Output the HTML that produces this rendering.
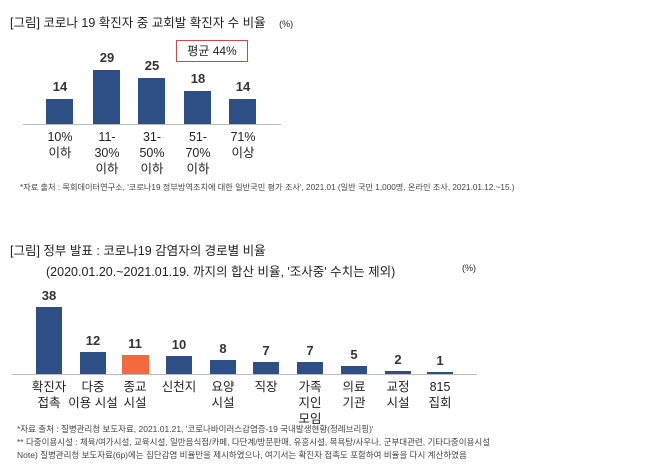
<!DOCTYPE html><html><head><meta charset="utf-8"><style>
body{margin:0;width:656px;height:465px;background:#fff;font-family:"Liberation Sans","Noto Sans CJK KR",sans-serif;color:#222;position:relative;overflow:hidden}
.t{position:absolute;white-space:nowrap}
.b{position:absolute;background:#2d4f86}
.v{position:absolute;font-weight:bold;font-size:13px;text-align:center;width:50px;color:#333}
.l{position:absolute;font-size:12.5px;text-align:center;width:70px;line-height:16px;color:#222}
.f{position:absolute;font-size:8.5px;color:#444;white-space:nowrap}
</style></head><body>
<div class="t" style="left:10px;top:12px;font-size:12.5px">[그림] 코로나 19 확진자 중 교회발 확진자 수 비율 <span style="font-size:9px;margin-left:10px">(%)</span></div>
<div class="t" style="left:176px;top:40px;width:70px;height:20px;border:1.5px solid #c94a4a;font-size:12px;text-align:center;line-height:20px">평균 44%</div>
<div style="position:absolute;left:23px;top:124px;width:258px;height:1px;background:#bbb"></div>
<div class="b" style="left:46px;top:99px;width:27px;height:25px"></div>
<div class="b" style="left:93px;top:70px;width:27px;height:54px"></div>
<div class="b" style="left:138px;top:78px;width:27px;height:46px"></div>
<div class="b" style="left:184px;top:91px;width:27px;height:33px"></div>
<div class="b" style="left:229px;top:99px;width:27px;height:25px"></div>
<div class="v" style="left:35px;top:79px">14</div>
<div class="v" style="left:82px;top:50px">29</div>
<div class="v" style="left:127px;top:58px">25</div>
<div class="v" style="left:173px;top:71px">18</div>
<div class="v" style="left:218px;top:79px">14</div>
<div class="l" style="left:25px;top:129px">10%<br>이하</div>
<div class="l" style="left:72px;top:129px">11-<br>30%<br>이하</div>
<div class="l" style="left:117px;top:129px">31-<br>50%<br>이하</div>
<div class="l" style="left:163px;top:129px">51-<br>70%<br>이하</div>
<div class="l" style="left:208px;top:129px">71%<br>이상</div>
<div class="f" style="left:20px;top:181px;font-size:8.2px">*자료 출처 : 목회데이터연구소, '코로나19 정부방역조치에 대한 일반국민 평가 조사', 2021.01 (일반 국민 1,000명, 온라인 조사, 2021.01.12.~15.)</div>

<div class="t" style="left:10px;top:240px;font-size:12.5px">[그림] 정부 발표 : 코로나19 감염자의 경로별 비율</div>
<div class="t" style="left:46px;top:261px;font-size:12.5px">(2020.01.20.~2021.01.19. 까지의 합산 비율, '조사중' 수치는 제외)</div>
<div class="t" style="left:462px;top:263px;font-size:9px">(%)</div>
<div style="position:absolute;left:12px;top:374px;width:465px;height:1px;background:#bbb"></div>
<div class="b" style="left:36px;top:307px;width:26px;height:67px"></div>
<div class="b" style="left:80px;top:352px;width:26px;height:22px"></div>
<div class="b" style="left:122px;top:355px;width:27px;height:19px;background:#f26a3d"></div>
<div class="b" style="left:166px;top:356px;width:26px;height:18px"></div>
<div class="b" style="left:210px;top:360px;width:26px;height:14px"></div>
<div class="b" style="left:253px;top:362px;width:26px;height:12px"></div>
<div class="b" style="left:297px;top:362px;width:26px;height:12px"></div>
<div class="b" style="left:341px;top:366px;width:26px;height:8px"></div>
<div class="b" style="left:385px;top:371px;width:26px;height:3px"></div>
<div class="b" style="left:427px;top:372px;width:26px;height:2px"></div>
<div class="v" style="left:24px;top:288px">38</div>
<div class="v" style="left:68px;top:333px">12</div>
<div class="v" style="left:110px;top:336px">11</div>
<div class="v" style="left:154px;top:337px">10</div>
<div class="v" style="left:198px;top:341px">8</div>
<div class="v" style="left:241px;top:343px">7</div>
<div class="v" style="left:285px;top:343px">7</div>
<div class="v" style="left:329px;top:347px">5</div>
<div class="v" style="left:373px;top:352px">2</div>
<div class="v" style="left:415px;top:353px">1</div>
<div class="l" style="left:14px;top:379px">확진자<br>접촉</div>
<div class="l" style="left:58px;top:379px">다중<br>이용 시설</div>
<div class="l" style="left:100px;top:379px">종교<br>시설</div>
<div class="l" style="left:144px;top:379px">신천지</div>
<div class="l" style="left:188px;top:379px">요양<br>시설</div>
<div class="l" style="left:231px;top:379px">직장</div>
<div class="l" style="left:275px;top:379px">가족<br>지인<br>모임</div>
<div class="l" style="left:319px;top:379px">의료<br>기관</div>
<div class="l" style="left:363px;top:379px">교정<br>시설</div>
<div class="l" style="left:405px;top:379px">815<br>집회</div>
<div class="f" style="left:17px;top:423px">*자료 출처 : 질병관리청 보도자료, 2021.01.21, '코로나바이러스감염증-19 국내발생현황(정례브리핑)'</div>
<div class="f" style="left:17px;top:436px">** 다중이용시설 : 체육/여가시설, 교육시설, 일반음식점/카페, 다단계/방문판매, 유흥시설, 목욕탕/사우나, 군부대관련, 기타다중이용시설</div>
<div class="f" style="left:17px;top:449px">Note) 질병관리청 보도자료(6p)에는 집단감염 비율만을 제시하였으나, 여기서는 확진자 접촉도 포함하여 비율을 다시 계산하였음</div>
</body></html>
